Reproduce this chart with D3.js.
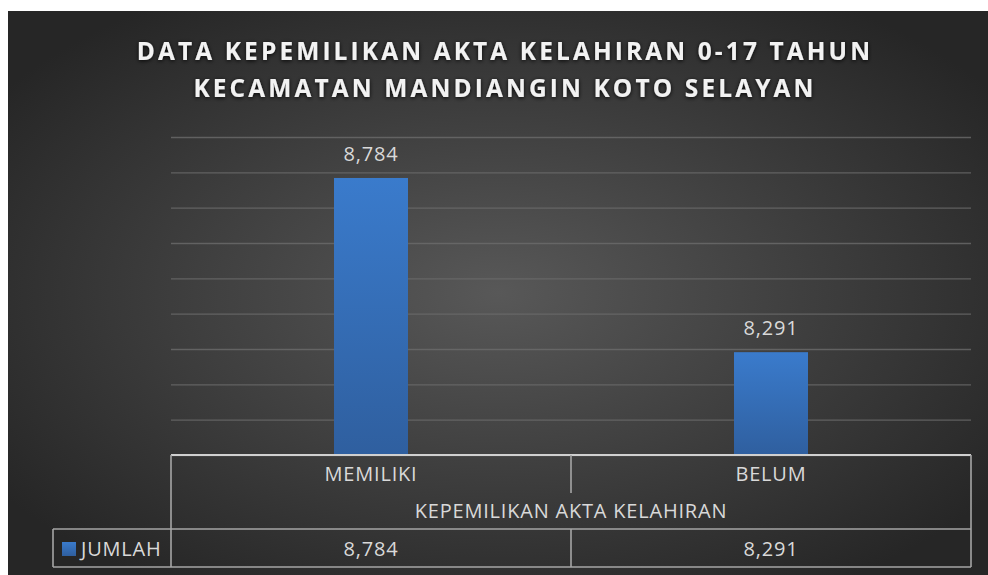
<!DOCTYPE html>
<html>
<head>
<meta charset="utf-8">
<script src="https://cdn.jsdelivr.net/npm/d3@7"></script>
<style>
  body { margin: 0; background: #fff; }
  svg { display: block; }
  text { font-family: "Open Sans", "Noto Sans", sans-serif; }
</style>
</head>
<body>
<div id="chart"></div>
<script>
// data
const categories = ["MEMILIKI", "BELUM"];
const jumlah = [8784, 8291];
const seriesName = "JUMLAH";
const axisTitle = "KEPEMILIKAN AKTA KELAHIRAN";
const titleLines = ["DATA KEPEMILIKAN AKTA KELAHIRAN 0-17 TAHUN", "KECAMATAN MANDIANGIN KOTO SELAYAN"];
const yTicks = d3.range(8000, 8901, 100);

const fmt = d3.format(",");

const W = 988, H = 575;
const svg = d3.select("#chart").append("svg")
    .attr("width", W)
    .attr("height", H);

const defs = svg.append("defs");
const bg = defs.append("radialGradient")
    .attr("id", "bg")
    .attr("cx", "50%").attr("cy", "50%").attr("r", "62%");
bg.append("stop").attr("offset", "0%").attr("stop-color", "#585858");
bg.append("stop").attr("offset", "100%").attr("stop-color", "#262626");

const barGrad = defs.append("linearGradient")
    .attr("id", "bar")
    .attr("x1", 0).attr("y1", 0).attr("x2", 0).attr("y2", 1);
barGrad.append("stop").attr("offset", "0%").attr("stop-color", "#3a7bcc");
barGrad.append("stop").attr("offset", "100%").attr("stop-color", "#2f5f9f");

const shadow = defs.append("filter").attr("id", "glow")
    .attr("x", "-10%").attr("y", "-30%").attr("width", "120%").attr("height", "160%");
shadow.append("feDropShadow")
    .attr("dx", 0).attr("dy", 1).attr("stdDeviation", 2)
    .attr("flood-color", "#000").attr("flood-opacity", 0.9);

// chart background
svg.append("rect")
    .attr("x", 8).attr("y", 11)
    .attr("width", W - 8).attr("height", H - 11)
    .attr("fill", "url(#bg)");

// title
svg.append("g").attr("filter", "url(#glow)")
  .selectAll("text")
  .data(titleLines)
  .join("text")
    .attr("x", 505)
    .attr("y", (d, i) => 59.5 + i * 37.2)
    .attr("text-anchor", "middle")
    .attr("fill", "#f2f2f2")
    .attr("font-size", 24.5)
    .attr("font-weight", "bold")
    .attr("letter-spacing", 3.1)
    .text(d => d);

// plot area
const margin = {left: 171, right: 17, top: 137, bottom: 120};
const plotW = W - margin.left - margin.right;
const plotBottom = H - margin.bottom;

const x = d3.scaleBand()
    .domain(categories)
    .range([margin.left, margin.left + plotW])
    .paddingInner(0)
    .paddingOuter(0);

const y = d3.scaleLinear()
    .domain([8000, 8900])
    .range([plotBottom, margin.top]);

// gridlines
const yAxis = d3.axisLeft(y).tickValues(yTicks).tickSize(-plotW).tickFormat("");
svg.append("g")
    .attr("transform", `translate(${margin.left},0)`)
    .call(yAxis)
    .call(g => g.select(".domain").remove())
    .call(g => g.selectAll(".tick line")
        .attr("stroke", "#6b6b6b")
        .attr("stroke-width", 1.3)
        .attr("opacity", 0.8));

// bars
const barW = x.bandwidth() * 0.185;
svg.append("g").selectAll("rect")
  .data(jumlah)
  .join("rect")
    .attr("x", (d, i) => x(categories[i]) + x.bandwidth() / 2 - barW / 2)
    .attr("y", d => y(d))
    .attr("width", barW)
    .attr("height", d => y(8000) - y(d))
    .attr("fill", "url(#bar)");

// data labels
svg.append("g").selectAll("text")
  .data(jumlah)
  .join("text")
    .attr("x", (d, i) => x(categories[i]) + x.bandwidth() / 2)
    .attr("y", d => y(d) - 17)
    .attr("text-anchor", "middle")
    .attr("fill", "#d9d9d9")
    .attr("font-size", 20)
    .attr("letter-spacing", 0.8)
    .text(d => fmt(d));

// data table
const lineCol = "#a6a6a6";
const rowCat = plotBottom + 38;    // bottom of category row divider
const rowSeries = plotBottom + 74;  // top of series row
const tableBottom = plotBottom + 112;
const legendLeft = 53;
const table = svg.append("g")
    .attr("stroke", lineCol)
    .attr("stroke-width", 1.6)
    .attr("fill", "none");

// top line
table.append("line")
    .attr("x1", margin.left).attr("x2", margin.left + plotW)
    .attr("y1", plotBottom).attr("y2", plotBottom)
    .attr("stroke", "#d0d0d0").attr("stroke-width", 2);
// series row top and bottom
table.append("line")
    .attr("x1", legendLeft).attr("x2", margin.left + plotW)
    .attr("y1", rowSeries).attr("y2", rowSeries);
table.append("line")
    .attr("x1", legendLeft).attr("x2", margin.left + plotW)
    .attr("y1", tableBottom).attr("y2", tableBottom);
// verticals
table.append("line")
    .attr("x1", legendLeft).attr("x2", legendLeft)
    .attr("y1", rowSeries).attr("y2", tableBottom);
table.append("line")
    .attr("x1", margin.left).attr("x2", margin.left)
    .attr("y1", plotBottom).attr("y2", tableBottom);
table.append("line")
    .attr("x1", margin.left + plotW).attr("x2", margin.left + plotW)
    .attr("y1", plotBottom).attr("y2", tableBottom);
// category dividers
table.selectAll("line.div")
  .data(categories.slice(1))
  .join("line")
    .attr("class", "div")
    .attr("x1", d => x(d)).attr("x2", d => x(d))
    .attr("y1", plotBottom).attr("y2", rowCat);
table.selectAll("line.div2")
  .data(categories.slice(1))
  .join("line")
    .attr("class", "div2")
    .attr("x1", d => x(d)).attr("x2", d => x(d))
    .attr("y1", rowSeries).attr("y2", tableBottom);

const txt = svg.append("g")
    .attr("fill", "#d9d9d9")
    .attr("font-size", 20)
    .attr("letter-spacing", 0.8)
    .attr("text-anchor", "middle");

txt.selectAll("text.cat")
  .data(categories)
  .join("text")
    .attr("class", "cat")
    .attr("x", d => x(d) + x.bandwidth() / 2)
    .attr("y", plotBottom + 26)
    .text(d => d);

txt.append("text")
    .attr("x", margin.left + plotW / 2)
    .attr("y", plotBottom + 63)
    .text(axisTitle);

txt.selectAll("text.val")
  .data(jumlah)
  .join("text")
    .attr("class", "val")
    .attr("x", (d, i) => x(categories[i]) + x.bandwidth() / 2)
    .attr("y", plotBottom + 101)
    .text(d => fmt(d));

// legend key
svg.append("rect")
    .attr("x", 62).attr("y", rowSeries + 13)
    .attr("width", 14).attr("height", 14)
    .attr("fill", "url(#bar)");
svg.append("text")
    .attr("x", 81)
    .attr("y", rowSeries + 27)
    .attr("fill", "#d9d9d9")
    .attr("font-size", 20)
    .attr("letter-spacing", 0.8)
    .text(seriesName);
</script>
</body>
</html>
